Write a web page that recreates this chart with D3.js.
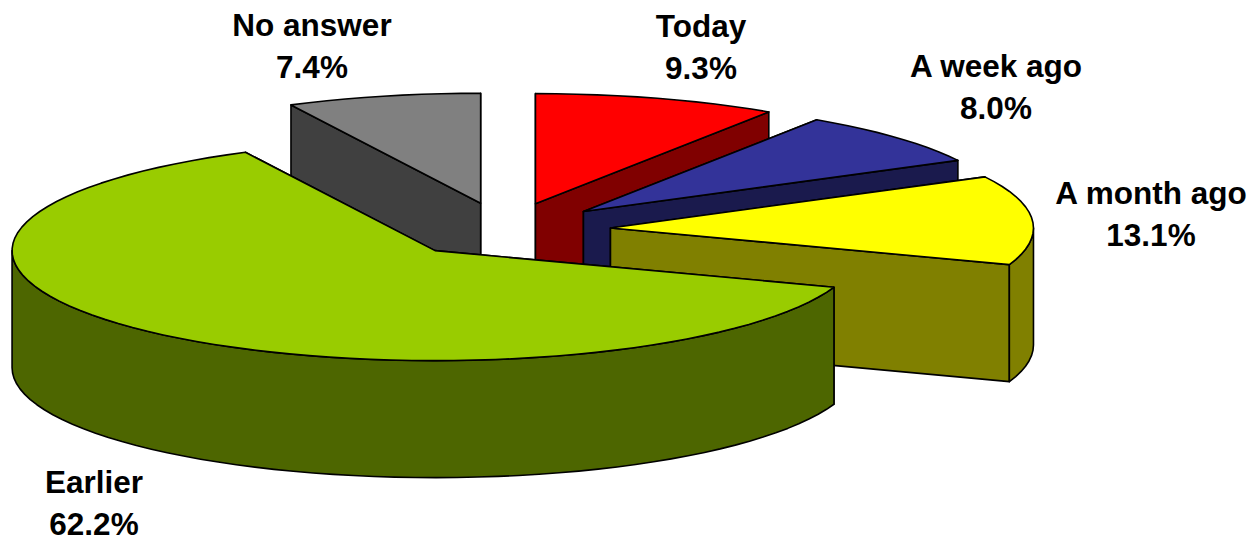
<!DOCTYPE html>
<html><head><meta charset="utf-8">
<style>html,body{margin:0;padding:0;background:#fff}svg{display:block}text{font-family:"Liberation Sans",Arial,sans-serif;font-weight:bold;font-size:31.5px;fill:#000}</style>
<script src="https://cdn.jsdelivr.net/npm/d3@7"></script>
</head><body><svg id="c" width="1255" height="537"></svg>
<script>
const categories=["Today","A week ago","A month ago","Earlier","No answer"];
const values=[9.3,8.0,13.1,62.2,7.4];
const topColors=["#ff0000","#333399","#ffff00","#99cc00","#808080"];
const sideColors=["#800000","#1a1a4d","#808000","#4d6600","#404040"];
const labelX=[701,996,1151,94,312];
const labelY=[37,77,204,493,36];
const drawOrder=[4,0,1,2,3];

const cx=505,cy=230,rx=423,ry=110,depth=117,explode=0.25,lineGap=41.5;
const svg=d3.select("#c");
const slices=d3.pie().sort(null).value(d=>d).startAngle(0).endAngle(2*Math.PI)(values);
const line=d3.line();
const x=d3.scaleLinear().domain([-1,1]).range([cx-rx,cx+rx]);
const y=d3.scaleLinear().domain([-1,1]).range([cy+ry,cy-ry]);
const pt=(a,r,ox,oy,dz=0)=>[x(ox+r*Math.sin(a)),y(oy+r*Math.cos(a))+dz];
const arcPts=(a0,a1,ox,oy,dz=0)=>{
  const n=Math.max(2,Math.ceil((a1-a0)/0.05));
  return d3.range(n+1).map(i=>pt(a0+(a1-a0)*i/n,1,ox,oy,dz));
};
drawOrder.forEach(i=>{
  const s=slices[i],mid=(s.startAngle+s.endAngle)/2;
  const ox=explode*Math.sin(mid),oy=explode*Math.cos(mid);
  const g=svg.append("g");
  const side=sideColors[i];
  const ctr=pt(0,0,ox,oy),ctrB=pt(0,0,ox,oy,depth);
  const face=(a)=>{const p=pt(a,1,ox,oy),pB=pt(a,1,ox,oy,depth);
    g.append("path").attr("d",line([ctr,p,pB,ctrB])+"Z").attr("fill",side).attr("stroke","#000").attr("stroke-width",1.6).attr("stroke-linejoin","round");};
  const walls=[s.startAngle,s.endAngle].sort((a,b)=>Math.cos(b)-Math.cos(a));
  walls.forEach(face);
  const a0=Math.max(s.startAngle,Math.PI/2),a1=Math.min(s.endAngle,3*Math.PI/2);
  if(a1>a0){
    const rim=arcPts(a0,a1,ox,oy).concat(arcPts(a0,a1,ox,oy,depth).reverse());
    g.append("path").attr("d",line(rim)+"Z").attr("fill",side).attr("stroke","#000").attr("stroke-width",1.6).attr("stroke-linejoin","round");
  }
  const top=[ctr].concat(arcPts(s.startAngle,s.endAngle,ox,oy));
  g.append("path").attr("d",line(top)+"Z").attr("fill",topColors[i]).attr("stroke","#000").attr("stroke-width",1.6).attr("stroke-linejoin","round");
});
const fmt=d3.format(".1f");
categories.forEach((c,i)=>{
  const t=svg.append("text").attr("text-anchor","middle");
  t.append("tspan").attr("x",labelX[i]).attr("y",labelY[i]).text(c);
  t.append("tspan").attr("x",labelX[i]).attr("y",labelY[i]+lineGap).text(fmt(values[i])+"%");
});
</script></body></html>
